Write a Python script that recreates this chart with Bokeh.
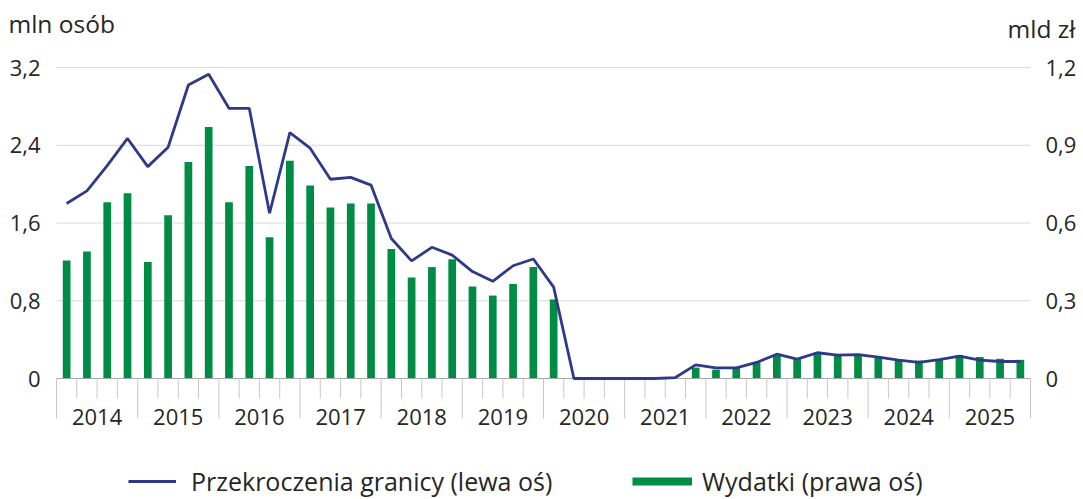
from bokeh.plotting import figure
from bokeh.models import (Range1d, LinearAxis, FixedTicker, CustomJSTickFormatter,
                          Legend, LegendItem)
from bokeh.core.properties import value
from bokeh.embed import file_html
from bokeh.resources import INLINE

# ---------------- data (quarterly, 2014 Q1 - 2025 Q4) ----------------
years = ["2014", "2015", "2016", "2017", "2018", "2019",
         "2020", "2021", "2022", "2023", "2024", "2025"]

# Przekroczenia granicy, mln osób (left axis)
border_crossings = [
    1.80, 1.93, 2.19, 2.47,
    2.18, 2.38, 3.02, 3.13,
    2.78, 2.78, 1.70, 2.53,
    2.37, 2.05, 2.07, 1.99,
    1.44, 1.21, 1.35, 1.27,
    1.10, 1.00, 1.16, 1.23,
    0.94, 0.00, 0.00, 0.00,
    0.00, 0.00, 0.01, 0.14,
    0.11, 0.11, 0.165, 0.25,
    0.20, 0.265, 0.24, 0.245,
    0.22, 0.19, 0.165, 0.195,
    0.23, 0.19, 0.175, 0.175,
]

# Wydatki, mld zł (right axis)
expenditure = [
    0.455, 0.49, 0.68, 0.715,
    0.45, 0.63, 0.835, 0.97,
    0.68, 0.82, 0.545, 0.84,
    0.745, 0.66, 0.675, 0.675,
    0.50, 0.39, 0.43, 0.46,
    0.355, 0.32, 0.365, 0.43,
    0.305, 0.0, 0.0, 0.0,
    0.0, 0.0, 0.0, 0.042,
    0.034, 0.04, 0.062, 0.088,
    0.075, 0.10, 0.088, 0.095,
    0.082, 0.07, 0.069, 0.072,
    0.09, 0.083, 0.076, 0.072,
]

left_ticks = [0, 0.8, 1.6, 2.4, 3.2]
right_ticks = [0, 0.3, 0.6, 0.9, 1.2]
left_title = "mln osób"
right_title = "mld zł"
line_label = "Przekroczenia granicy (lewa oś)"
bar_label = "Wydatki (prawa oś)"

# ---------------- layout constants (pixels) ----------------
W, H = 1083, 499
X0_PX, X1_PX = 56, 1030          # plot area left / right
TOP_PX, ZERO_PX = 67, 378        # top tick / zero line
LMAX, RMAX = left_ticks[-1], right_ticks[-1]
n = len(border_crossings)
px_y = (ZERO_PX - TOP_PX) / LMAX
px_x = (X1_PX - X0_PX) / n
ratio = RMAX / LMAX


def dx(px):   # canvas x pixel -> data x
    return (px - X0_PX) / px_x


def dy(px):   # canvas y pixel -> left-axis data y
    return (ZERO_PX - px) / px_y


FONT = "Open Sans"
TXT = "#262626"
NAVY = "#2e3a87"
GREEN = "#008c45"
GRID = "#d9d9d9"

x = [i + 0.5 for i in range(n)]

p = figure(width=W, height=H, x_range=Range1d(dx(0), dx(W)), y_range=Range1d(dy(H), dy(0)),
           output_backend="svg", toolbar_location=None, x_axis_type=None, y_axis_type=None,
           min_border=0, min_border_left=0, min_border_right=0,
           min_border_top=0, min_border_bottom=0)
p.outline_line_color = None
p.xgrid.visible = False
p.ygrid.visible = False
p.extra_y_ranges = {"right": Range1d(dy(H) * ratio, dy(0) * ratio)}

fmt = CustomJSTickFormatter(code="return tick == 0 ? '0' : tick.toFixed(1).replace('.', ',');")


def style_axis(ax, standoff):
    ax.axis_line_color = None
    ax.major_tick_line_color = None
    ax.minor_tick_line_color = None
    ax.major_tick_out = 0
    ax.major_tick_in = 0
    ax.major_label_standoff = standoff
    ax.major_label_text_font = FONT
    ax.major_label_text_font_size = "22px"
    ax.major_label_text_color = TXT


ly = LinearAxis(ticker=FixedTicker(ticks=left_ticks), formatter=fmt, fixed_location=0)
style_axis(ly, 16)
p.add_layout(ly, "left")

ry = LinearAxis(y_range_name="right", ticker=FixedTicker(ticks=right_ticks), formatter=fmt,
                fixed_location=n)
style_axis(ry, 15)
p.add_layout(ry, "right")

# horizontal grid lines
grid_y = left_ticks[1:]
p.segment(x0=[0] * len(grid_y), x1=[n] * len(grid_y), y0=grid_y, y1=grid_y,
          line_color=GRID, line_width=1)

# bars
bars_r = p.vbar(x=x, top=expenditure, bottom=0, width=0.38, y_range_name="right",
                fill_color=GREEN, line_color=None)

# category axis: zero line, quarter ticks, year labels
p.segment(x0=[0], x1=[n], y0=[0], y1=[0], line_color="#a6a6a6", line_width=1)
tick_x = list(range(n + 1))
tick_y1 = [-(40 if k % 4 == 0 else 20) / px_y for k in tick_x]
p.segment(x0=tick_x, y0=[0] * len(tick_x), x1=tick_x, y1=tick_y1,
          line_color="#c8c8c8", line_width=1)
p.text(x=[4 * i + 2 for i in range(len(years))], y=[dy(416)] * len(years),
       text=years, text_align="center", text_baseline="alphabetic",
       text_font=value(FONT), text_font_size="22px", text_color=TXT)

# line
line_r = p.line(x=x, y=border_crossings, line_color=NAVY, line_width=2.8)

# axis titles
p.text(x=[dx(8)], y=[dy(23)], text=[left_title], text_align="left",
       text_baseline="alphabetic", text_font=value(FONT), text_font_size="24.5px",
       text_color=TXT)
p.text(x=[dx(1075)], y=[dy(28)], text=[right_title], text_align="right",
       text_baseline="alphabetic", text_font=value(FONT), text_font_size="24.5px",
       text_color=TXT)

# legend swatch for the bars (a thick green line, drawn nowhere in the plot)
bar_swatch = p.line(x=[float("nan")], y=[float("nan")], line_color=GREEN, line_width=8)

common = dict(orientation="horizontal", padding=0, margin=0, border_line_color=None,
              background_fill_alpha=0, glyph_height=34, label_height=34,
              label_text_font=FONT, label_text_font_size="25px", label_text_color=TXT)
leg_y = 1
leg1 = Legend(items=[LegendItem(label=line_label, renderers=[line_r])],
              location=(128, leg_y), glyph_width=48, label_standoff=15, **common)
leg2 = Legend(items=[LegendItem(label=bar_label, renderers=[bar_swatch])],
              location=(632, leg_y), glyph_width=60, label_standoff=10, **common)
p.add_layout(leg1)
p.add_layout(leg2)

open("out.html", "w").write(file_html(p, INLINE))
